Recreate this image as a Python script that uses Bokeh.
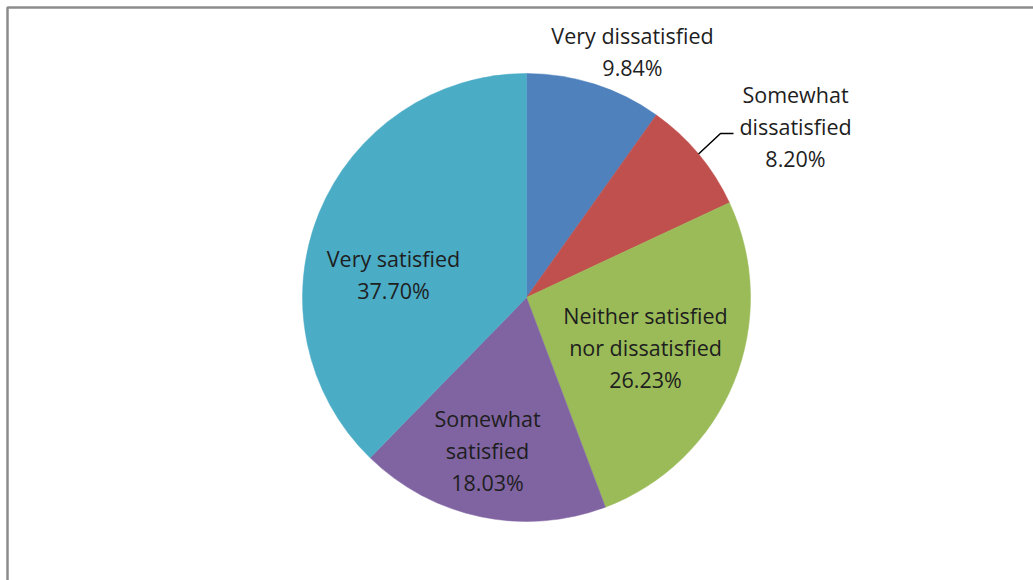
import math
from bokeh.plotting import figure
from bokeh.models import Range1d, ColumnDataSource
from bokeh.core.properties import value
from bokeh.embed import file_html
from bokeh.resources import INLINE

# ---- data ----
categories = ["Very dissatisfied", "Somewhat dissatisfied",
              "Neither satisfied nor dissatisfied", "Somewhat satisfied", "Very satisfied"]
percents = [9.84, 8.20, 26.23, 18.03, 37.70]
label_texts = ["Very dissatisfied\n9.84%", "Somewhat\ndissatisfied\n8.20%",
               "Neither satisfied\nnor dissatisfied\n26.23%", "Somewhat\nsatisfied\n18.03%",
               "Very satisfied\n37.70%"]
colors = ["#4F81BD", "#C0504D", "#9BBB59", "#8064A2", "#4BACC6"]

# ---- layout (pixels, y down) ----
W, H = 1033, 580
CX, CY, R = 526, 297, 224
label_px = [(632, 51), (795, 126), (645, 347), (487, 450), (393, 274)]

def Y(py):
    return H - py

total = sum(percents)
starts, ends, mids = [], [], []
cum = 0.0
for v in percents:
    a0 = math.pi / 2 - 2 * math.pi * cum / total
    cum += v
    a1 = math.pi / 2 - 2 * math.pi * cum / total
    starts.append(a1)
    ends.append(a0)
    mids.append((a0 + a1) / 2)

p = figure(width=W, height=H, x_range=Range1d(0, W), y_range=Range1d(0, H),
           output_backend="svg", toolbar_location=None,
           x_axis_type=None, y_axis_type=None, min_border=0)
p.grid.visible = False
p.outline_line_color = None
p.background_fill_color = "white"
p.border_fill_color = "white"

# chart border (right/bottom edges run off the window)
p.line(x=[7, 7, W + 10], y=[Y(H + 10), Y(7), Y(7)], line_color="#8c8c8c", line_width=2.5)

src = ColumnDataSource(dict(cat=categories, start=starts, end=ends, color=colors))
p.wedge(x=CX, y=Y(CY), radius=R, start_angle="start", end_angle="end",
        direction="anticlock", fill_color="color", line_color="color", line_width=0.5,
        source=src)

# leader line for "Somewhat dissatisfied"
m = mids[1]
sx = CX + R * math.cos(m)
sy = Y(CY) + R * math.sin(m)
p.line(x=[sx, 720, 733], y=[sy, Y(133), Y(133)], line_color="black", line_width=1.5)

lsrc = ColumnDataSource(dict(x=[lp[0] for lp in label_px], y=[Y(lp[1]) for lp in label_px],
                             t=label_texts))
p.text(x="x", y="y", text="t", source=lsrc, text_align="center", text_baseline="middle",
       text_font=value("Open Sans"), text_font_size="21.5px", text_color="#1e1e1e",
       text_line_height=1.1)

open("out.html", "w").write(file_html(p, INLINE))
